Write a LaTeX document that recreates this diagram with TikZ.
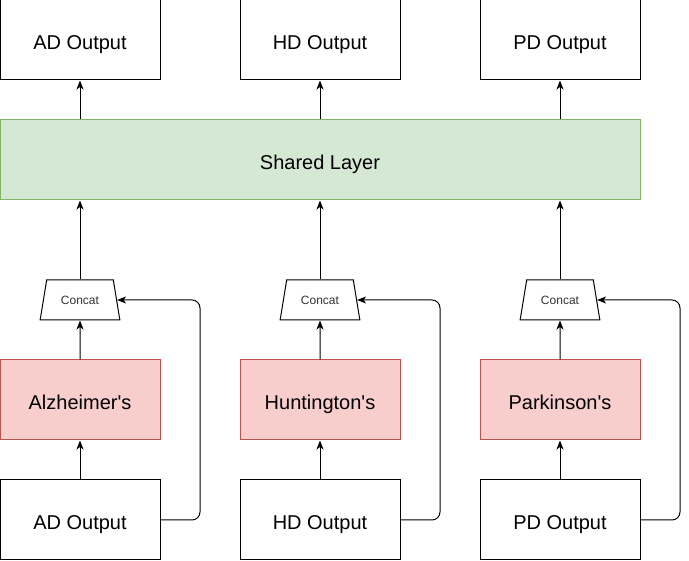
\documentclass[tikz,border=0pt]{standalone}
\usepackage{fontspec}
\setmainfont{Liberation Sans}
\usetikzlibrary{arrows.meta,shapes.geometric}
\definecolor{gfill}{HTML}{D5E8D4}
\definecolor{gline}{HTML}{82B366}
\definecolor{rfill}{HTML}{F8CECC}
\definecolor{rline}{HTML}{B85450}
\definecolor{ctext}{HTML}{333333}
\begin{document}
\begin{tikzpicture}[x=1pt,y=-1pt,line width=1pt,
  big/.style={minimum height=80pt,inner sep=0pt,text height=20pt,text depth=0pt,font=\fontsize{20}{24}\selectfont},
  box/.style={big,draw=black,fill=white,minimum width=160pt},
  shared/.style={big,draw=gline,fill=gfill,minimum width=640pt},
  disease/.style={big,draw=rline,fill=rfill,minimum width=160pt},
  concat/.style={draw=black,fill=white,trapezium,trapezium stretches=true,trapezium left angle=69.44,trapezium right angle=69.44,minimum width=80pt,minimum height=40pt,inner sep=0pt,text height=10pt,text depth=0pt,text=ctext,font=\fontsize{12}{14}\selectfont},
  arr/.style={-{Stealth[length=9pt,width=7pt,inset=2.5pt]}},
  fb/.style={arr,rounded corners=8pt}]
\useasboundingbox (0,0) rectangle (689,561);
\node[box] (ta) at (80,40) {AD Output};
\node[box] (th) at (320,40) {HD Output};
\node[box] (tp) at (560,40) {PD Output};
\node[shared] (sh) at (320,160) {Shared Layer};
\node[concat] (ca) at (80,300) {Concat};
\node[concat] (ch) at (320,300) {Concat};
\node[concat] (cp) at (560,300) {Concat};
\node[disease] (da) at (80,400) {Alzheimer\textquotesingle s};
\node[disease] (dh) at (320,400) {Huntington\textquotesingle s};
\node[disease] (dp) at (560,400) {Parkinson\textquotesingle s};
\node[box] (ba) at (80,520) {AD Output};
\node[box] (bh) at (320,520) {HD Output};
\node[box] (bp) at (560,520) {PD Output};
\foreach \c/\x in {a/80,h/320,p/560}{
  \draw[arr] (sh.north -| t\c.south) -- (t\c.south);
  \draw[arr] (c\c.north) -- (sh.south -| c\c.north);
  \draw[arr] (d\c.north) -- (c\c.south);
  \draw[arr] (b\c.north) -- (d\c.south);
  \coordinate (r\c) at (\x+120,520);
  \draw[fb] (b\c.east) -- (r\c) -- (r\c |- c\c.east) -- (c\c.east);
}
\end{tikzpicture}
\end{document}
